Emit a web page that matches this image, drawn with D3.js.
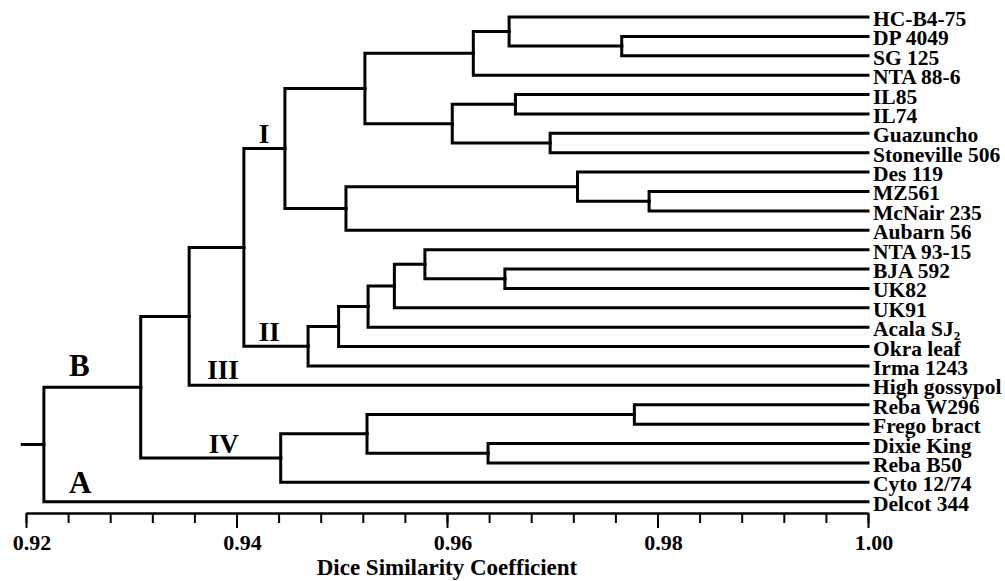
<!DOCTYPE html>
<html>
<head>
<meta charset="utf-8">
<script src="https://cdn.jsdelivr.net/npm/d3@7"></script>
<style>
  html, body { margin: 0; padding: 0; background: #fff; }
  svg { display: block; }
  text { font-family: "Liberation Serif", "Times New Roman", serif; font-weight: bold; fill: #000; }
</style>
</head>
<body>
<svg id="chart" width="1005" height="581"></svg>
<script>
// ---- data ----
const leaves = ["HC-B4-75", "DP 4049", "SG 125", "NTA 88-6", "IL85", "IL74", "Guazuncho",
  "Stoneville 506", "Des 119", "MZ561", "McNair 235", "Aubarn 56", "NTA 93-15", "BJA 592",
  "UK82", "UK91", "Acala SJ₂", "Okra leaf", "Irma 1243", "High gossypol", "Reba W296",
  "Frego bract", "Dixie King", "Reba B50", "Cyto 12/74", "Delcot 344"];

// merges: [node id, left child, right child, similarity at which they join]
const merges = [
  ["n1", "DP 4049", "SG 125", 0.9766],
  ["n2", "HC-B4-75", "n1", 0.9659],
  ["n3", "n2", "NTA 88-6", 0.9625],
  ["n4", "IL85", "IL74", 0.9665],
  ["n5", "Guazuncho", "Stoneville 506", 0.9698],
  ["n6", "n4", "n5", 0.9605],
  ["n7", "n3", "n6", 0.9522],
  ["n8", "MZ561", "McNair 235", 0.9792],
  ["n9", "Des 119", "n8", 0.9724],
  ["n10", "n9", "Aubarn 56", 0.9504],
  ["I", "n7", "n10", 0.9446],
  ["n11", "BJA 592", "UK82", 0.9655],
  ["n12", "NTA 93-15", "n11", 0.9579],
  ["n13", "n12", "UK91", 0.9550],
  ["n14", "n13", "Acala SJ₂", 0.9525],
  ["n15", "n14", "Okra leaf", 0.9497],
  ["II", "n15", "Irma 1243", 0.9468],
  ["n16", "I", "II", 0.9407],
  ["n17", "n16", "High gossypol", 0.9355],
  ["n18", "Reba W296", "Frego bract", 0.9778],
  ["n19", "Dixie King", "Reba B50", 0.9639],
  ["n20", "n18", "n19", 0.9524],
  ["IV", "n20", "Cyto 12/74", 0.9442],
  ["B", "n17", "IV", 0.9309],
  ["root", "B", "Delcot 344", 0.9217]
];
const rootStubStart = 0.9195;
const leafSimilarity = 1.00;

// cluster annotations: [text, labelled node, parent node]
const clusterLabels = [
  ["I", "I", "n16"],
  ["II", "II", "n16"],
  ["III", "High gossypol", "n17"],
  ["IV", "IV", "B"],
  ["B", "B", "root"],
  ["A", "Delcot 344", "root"]
];

const axisDomain = [0.92, 1.00];
const majorTicks = [0.92, 0.94, 0.96, 0.98, 1.00];
const minorTicks = d3.range(0, 21).map(i => +(0.92 + i * 0.004).toFixed(3));
const axisTitle = "Dice Similarity Coefficient";

// ---- layout ----
const svg = d3.select("#chart");
svg.append("rect").attr("width", 1005).attr("height", 581).attr("fill", "#fff");

const x = d3.scaleLinear().domain(axisDomain).range([26, 868]);
const yLeaf = d3.scaleLinear().domain([0, leaves.length - 1]).range([17, 501.7]);

// build hierarchy
const nodes = new Map();
leaves.forEach((name, i) => nodes.set(name, { id: name, sim: leafSimilarity, idx: i }));
merges.forEach(([id, a, b, s]) => nodes.set(id, { id, sim: s, children: [nodes.get(a), nodes.get(b)] }));
const root = d3.hierarchy(nodes.get("root"), d => d.children);
root.eachAfter(n => {
  if (n.children) n.yy = d3.mean(n.children, c => c.yy);
  else n.yy = yLeaf(n.data.idx);
  n.xx = x(n.data.sim);
});
const byId = new Map();
root.each(n => byId.set(n.data.id, n));

const g = svg.append("g");
// links
g.selectAll("path.link")
  .data(root.descendants().filter(n => n.parent))
  .join("path")
  .attr("class", "link")
  .attr("d", n => `M${n.xx},${n.yy}H${n.parent.xx}V${n.parent.yy}`)
  .attr("fill", "none")
  .attr("stroke", "#000")
  .attr("stroke-width", 3)
  .attr("stroke-linejoin", "miter")
  .attr("stroke-linecap", "square");
// root stub
g.append("path")
  .attr("d", `M${x(rootStubStart)},${root.yy}H${root.xx}`)
  .attr("stroke", "#000").attr("stroke-width", 3);

// leaf labels
const lbl = g.selectAll("text.leaf")
  .data(root.leaves())
  .join("text")
  .attr("class", "leaf")
  .attr("x", n => n.xx + 5)
  .attr("y", n => n.yy + 9)
  .attr("font-size", "21.5px");
lbl.each(function(n) {
  const t = d3.select(this);
  const name = n.data.id;
  if (name.endsWith("₂")) {
    t.append("tspan").text(name.slice(0, -1));
    t.append("tspan").text("2").attr("font-size", "13px").attr("dy", 4);
  } else {
    t.text(name);
  }
});

// cluster labels
const labelOffsets = { "I": [15, 5.5, 27], "II": [15, 5, 27], "III": [18, 6.5, 27], "IV": [68, 5, 27], "B": [25, 11, 31], "A": [25, 8.7, 31] };
clusterLabels.forEach(([text, nodeId, parentId]) => {
  const n = byId.get(nodeId), p = byId.get(parentId);
  const [dx, dy, fs] = labelOffsets[text];
  g.append("text")
    .attr("x", p.xx + dx)
    .attr("y", n.yy - dy)
    .attr("font-size", fs + "px")
    .text(text);
});

// axis
const axisY = 513;
const minorAxis = d3.axisBottom(x).tickValues(minorTicks).tickSize(10).tickSizeOuter(0).tickFormat("");
const majorAxis = d3.axisBottom(x).tickValues(majorTicks).tickSize(15).tickSizeOuter(0).tickFormat(d3.format(".2f"));
const ga1 = svg.append("g").attr("transform", `translate(0,${axisY})`).call(minorAxis);
const ga2 = svg.append("g").attr("transform", `translate(0,${axisY})`).call(majorAxis);
[ga1, ga2].forEach(ga => {
  ga.selectAll("path.domain").attr("stroke", "#000").attr("stroke-width", 2);
  ga.selectAll(".tick line").attr("stroke", "#000").attr("stroke-width", 2);
});
ga2.selectAll(".tick text")
  .attr("font-family", "Liberation Serif, Times New Roman, serif")
  .attr("font-weight", "bold")
  .attr("font-size", "22px")
  .attr("fill", "#000")
  .attr("dy", null)
  .attr("y", 37)
  .attr("x", 5.5);

svg.append("text")
  .attr("x", (x.range()[0] + x.range()[1]) / 2)
  .attr("y", 575)
  .attr("text-anchor", "middle")
  .attr("font-size", "23px")
  .text(axisTitle);
</script>
</body>
</html>
